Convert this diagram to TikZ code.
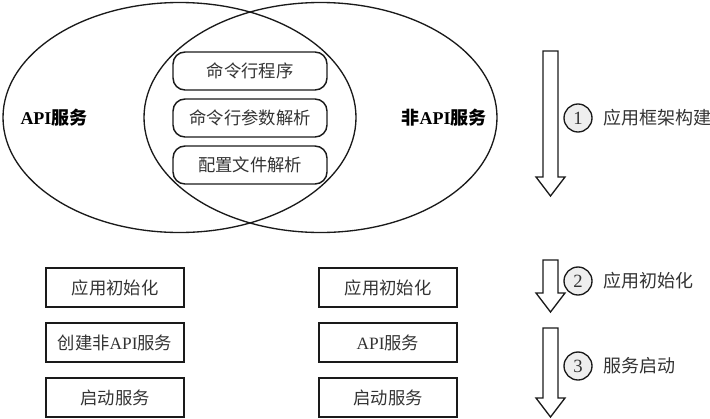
\documentclass[tikz,border=0pt]{standalone}
\usepackage{fontspec}
\usepackage{tikz}
\setmainfont{Liberation Serif}
\newfontfamily\cjk{Noto Sans CJK SC}
\usetikzlibrary{
  shapes.geometric,
  positioning
}
\definecolor{vnLine}{HTML}{1A1A1A}
\definecolor{vnText}{HTML}{333333}
\definecolor{vnStep}{HTML}{EEEEEE}
\newcommand{\zh}[1]{{\cjk #1}}
\tikzset{
  vnset/.style={
    draw=vnLine, ellipse, line width=1pt, inner sep=0pt,
    minimum width=264.75pt, minimum height=172.5pt
  },
  vnlabel/.style={font=\fontsize{13.5}{16}\selectfont\bfseries, text=black},
  common/.style={
    draw=vnLine, rounded corners=9pt, line width=1.1pt,
    minimum width=115.5pt, minimum height=28.5pt,
    font=\fontsize{13}{15}\selectfont, text=vnText
  },
  stepbox/.style={
    draw=vnLine, line width=1.2pt, minimum width=103.5pt, minimum height=29.25pt,
    font=\fontsize{13}{15}\selectfont, text=vnText
  },
  stepnum/.style={
    circle, draw=vnLine, fill=vnStep, line width=1pt, minimum size=21pt,
    inner sep=0pt, font=\fontsize{14}{16}\selectfont, text=vnText
  },
  steptext/.style={font=\fontsize{13.5}{16}\selectfont, text=vnText},
  pics/hollowdown/.style={code={
    \draw[vnLine, line width=1pt] (-7.5,0) -- (-7.5,#1-19) -- (-14.5,#1-19)
      -- (0,#1) -- (14.5,#1-19) -- (7.5,#1-19) -- (7.5,0) -- cycle;
  }}
}

\begin{document}
\begin{tikzpicture}[x=0.75pt, y=-0.75pt]
  \useasboundingbox (0,0) rectangle (710,418);
  % two overlapping sets
  \node[vnset] (apiset) at (179.5,117.5) {};
  \node[vnset] (nonapiset) at (320.5,117.5) {};
  \node[vnlabel] (apilabel) at (54,118) {API\zh{服务}};
  \node[vnlabel] (nonapilabel) at (444,118) {\zh{非}API\zh{服务}};
  % shared parts
  \node[common] (cli) at (250,71) {\zh{命令行程序}};
  \node[common] (args) at (250,118) {\zh{命令行参数解析}};
  \node[common] (conf) at (250,165) {\zh{配置文件解析}};
  % left and right columns
  \node[stepbox] (linit) at (115,287.5) {\zh{应用初始化}};
  \node[stepbox] (lcreate) at (115,342.5) {\zh{创建非}API\zh{服务}};
  \node[stepbox] (lstart) at (115,397.5) {\zh{启动服务}};
  \node[stepbox] (rinit) at (388,287.5) {\zh{应用初始化}};
  \node[stepbox] (rapi) at (388,342.5) {API\zh{服务}};
  \node[stepbox] (rstart) at (388,397.5) {\zh{启动服务}};
  % phases
  \pic at (550.5,51) {hollowdown=145};
  \pic at (550.5,260) {hollowdown=52};
  \pic at (550.5,328) {hollowdown=89};
  \node[stepnum] (n1) at (578,118) {1};
  \node[stepnum] (n2) at (578,281) {2};
  \node[stepnum] (n3) at (578,366) {3};
  \node[steptext, right=4.5pt of n1] (t1) {\zh{应用框架构建}};
  \node[steptext, right=4.5pt of n2] (t2) {\zh{应用初始化}};
  \node[steptext, right=4.5pt of n3] (t3) {\zh{服务启动}};
\end{tikzpicture}
\end{document}
